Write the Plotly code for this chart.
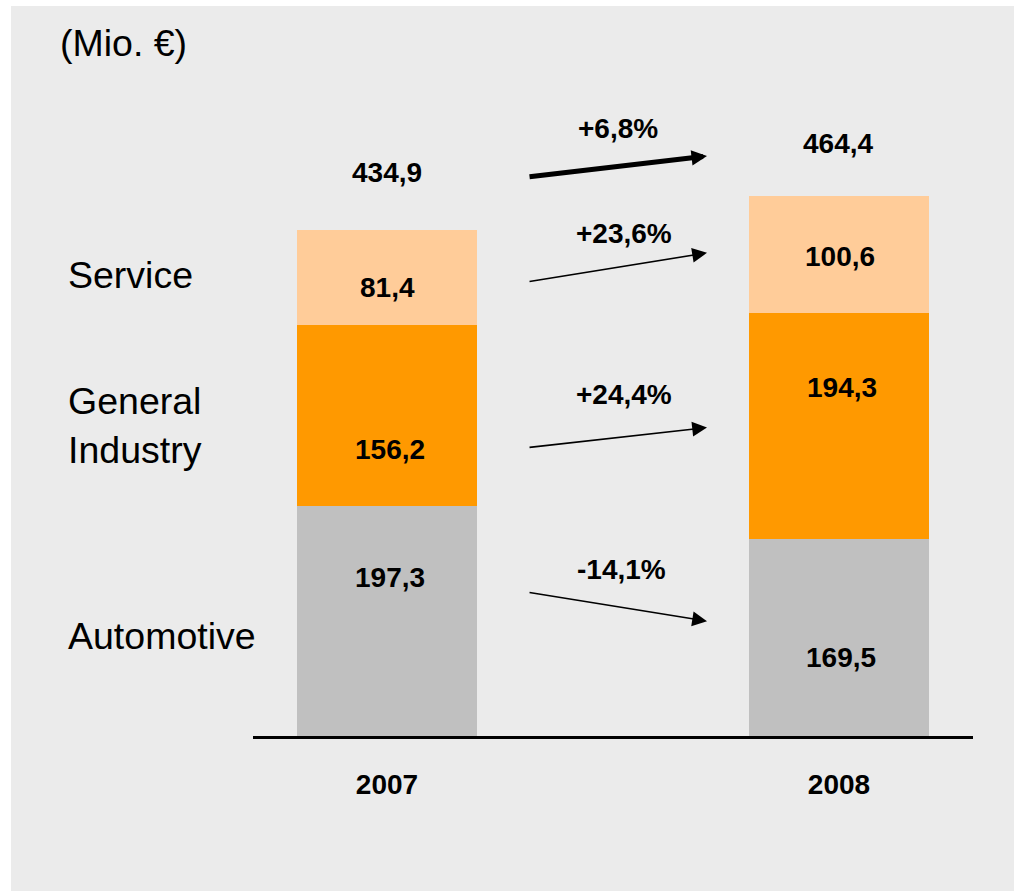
import plotly.graph_objects as go

# ---------------- data ----------------
years = ["2007", "2008"]
automotive = [197.3, 169.5]
general_industry = [156.2, 194.3]
service = [81.4, 100.6]
totals = [434.9, 464.4]
segment_names = ["Automotive", "General<br>Industry", "Service"]
unit_label = "(Mio. €)"

# ---------------- style ----------------
W, H = 1014, 891
L, R, T, B = 253, 41, 36, 155
PLOT_H = H - T - B
Y_MAX = 601.6
SCALE = PLOT_H / Y_MAX          # px per data unit
X_RANGE = [-0.2965, 1.2965]
BAR_W = 0.398
COLORS = {"Automotive": "#c0c0c0", "General": "#ff9900", "Service": "#ffcc99"}
BG = "#ebebeb"
FONT = "Liberation Sans, Arial, Helvetica, sans-serif"
NUM_SIZE = 28
LBL_SIZE = 37.5


def fmt(v):
    return f"{v:.1f}".replace(".", ",")


def pct(a, b):
    return f"{(b / a - 1) * 100:+.1f}%".replace(".", ",")


fig = go.Figure()
series = [("Automotive", automotive, COLORS["Automotive"]),
          ("General Industry", general_industry, COLORS["General"]),
          ("Service", service, COLORS["Service"])]
for name, vals, col in series:
    fig.add_trace(go.Bar(x=years, y=vals, name=name, width=BAR_W,
                         marker=dict(color=col, line=dict(width=0)),
                         hoverinfo="skip"))

# segment mids
bases = [[0, 0], automotive, [a + g for a, g in zip(automotive, general_industry)]]
mids = []
for (name, vals, col), base in zip(series, bases):
    mids.append([b + v / 2 for b, v in zip(base, vals)])

annotations = []
num_font = dict(family=FONT, size=NUM_SIZE, color="black", weight="bold")

# value labels inside segments (pixel nudges as in the original)
yshifts = [[44, -20], [-34, 38], [-10.5, -2]]
xshifts = [[3, 2], [3, 3], [0, 1]]
for si, (name, vals, col) in enumerate(series):
    for i in range(2):
        annotations.append(dict(x=i, y=mids[si][i], xref="x", yref="y",
                                text=fmt(vals[i]), showarrow=False,
                                font=num_font, yshift=yshifts[si][i],
                                xshift=xshifts[si][i]))
# totals above bars
tot_shift = [57, 52.6]
tot_xshift = [0, -1]
for i in range(2):
    annotations.append(dict(x=i, y=totals[i], xref="x", yref="y",
                            text=fmt(totals[i]), showarrow=False, font=num_font,
                            yshift=tot_shift[i], xshift=tot_xshift[i]))

# growth arrows
arrow_specs = [
    (totals[0], totals[1], 53, 39.6, 5, 0.62, 38.5, 0.511, pct(totals[0], totals[1])),
    (mids[2][0], mids[2][1], -4.5, 1.3, 1.6, 1.85, 33.5, 0.524, pct(service[0], service[1])),
    (mids[1][0], mids[1][1], -32, -1.8, 1.6, 1.85, 43, 0.524, pct(general_industry[0], general_industry[1])),
    (mids[0][0], mids[0][1], 29, 16.2, 1.6, 1.85, 37.5, 0.518, pct(automotive[0], automotive[1])),
]
X_TAIL, X_HEAD = 0.312, 0.708
for y0, y1, off0, off1, lw, asz, loff, lx, txt in arrow_specs:
    ty = y0 + off0 / SCALE
    hy = y1 + off1 / SCALE
    annotations.append(dict(x=X_HEAD, y=hy, ax=X_TAIL, ay=ty, xref="x", yref="y",
                            axref="x", ayref="y", text="", showarrow=True,
                            arrowhead=2, arrowsize=asz, arrowwidth=lw,
                            arrowcolor="black", standoff=0))
    annotations.append(dict(x=lx, y=(ty + hy) / 2 + loff / SCALE, xref="x", yref="y",
                            text=txt, showarrow=False, font=num_font))

# segment names on the left
pw = W - L - R
lbl_shift = [-15, -10, 2.5]
for si, nm in enumerate(segment_names):
    annotations.append(dict(x=(66 - L) / pw, xref="paper", xanchor="left",
                            y=mids[si][0], yref="y", yshift=lbl_shift[si],
                            text=nm, showarrow=False, align="left",
                            font=dict(family=FONT, size=LBL_SIZE, color="black")))

# unit label
annotations.append(dict(x=(58 - L) / pw, xref="paper", xanchor="left",
                        y=(H - B - 43) / PLOT_H, yref="paper", yanchor="middle",
                        text=unit_label, showarrow=False,
                        font=dict(family=FONT, size=LBL_SIZE, color="black")))

# background panel (white strip at left/top as in original)
shapes = [dict(type="rect", xref="paper", yref="paper", layer="below",
               x0=(11 - L) / pw, x1=(W - L) / pw + 0.01,
               y0=-(B + 5) / PLOT_H, y1=(H - B - 6) / PLOT_H,
               fillcolor=BG, line=dict(width=0))]

fig.update_layout(
    width=W, height=H, barmode="stack",
    margin=dict(l=L, r=R, t=T, b=B, pad=0),
    paper_bgcolor="white", plot_bgcolor="rgba(0,0,0,0)",
    showlegend=False, annotations=annotations, shapes=shapes,
    font=dict(family=FONT, color="black"),
    xaxis=dict(type="category", range=X_RANGE, showgrid=False, zeroline=False,
               showline=True, linecolor="black", linewidth=3, ticks="",
               tickfont=dict(family=FONT, size=NUM_SIZE, color="black", weight="bold"),
               ticklabelstandoff=21, fixedrange=True),
    yaxis=dict(range=[0, Y_MAX], visible=False, fixedrange=True),
)

fig.write_html("out.html", config={"displayModeBar": False},
               post_script="document.body.style.margin='0';document.body.style.overflow='hidden';")
